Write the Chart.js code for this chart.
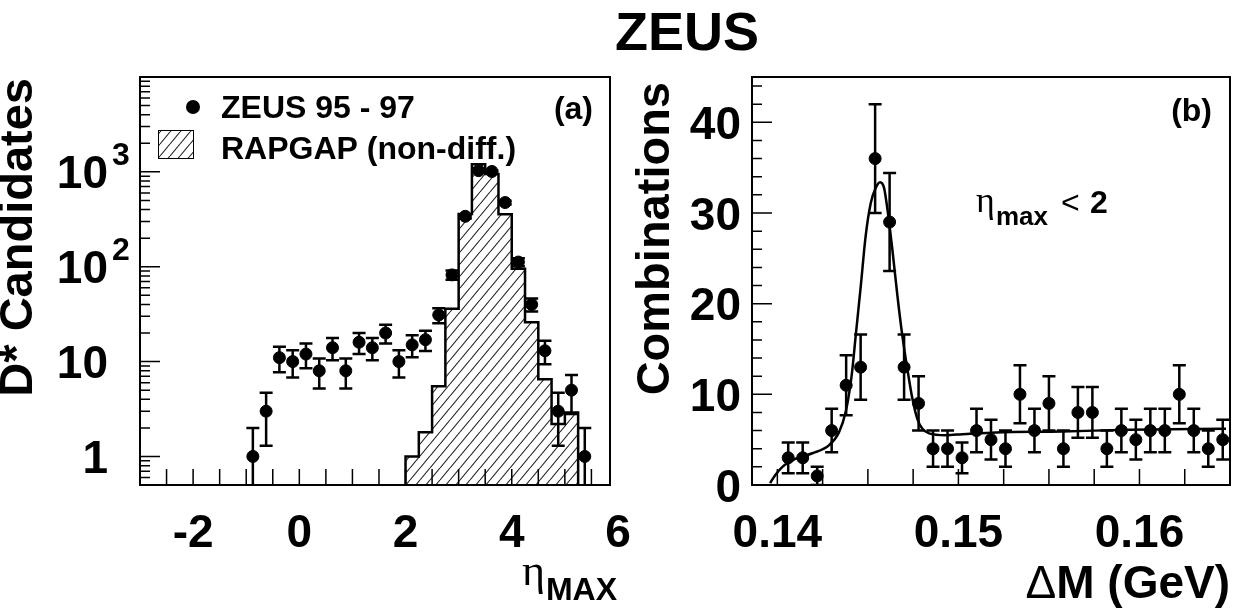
<!DOCTYPE html>
<html>
<head>
<meta charset="utf-8">
<title>ZEUS D* eta_max</title>
<script src="https://cdn.jsdelivr.net/npm/chart.js@4.4.1/dist/chart.umd.min.js"></script>
<style>
  body { margin: 0; background: #fff; width: 1244px; height: 609px; overflow: hidden; position: relative; }
  canvas { position: absolute; left: 0; top: 0; }
</style>
</head>
<body>
<canvas id="etaChart" width="1244" height="609"></canvas>
<canvas id="dmChart" width="1244" height="609"></canvas>
<script>
// (a) eta_max distribution of D* candidates
const etaBins = [-0.875, -0.625, -0.375, -0.125, 0.125, 0.375, 0.625, 0.875, 1.125, 1.375, 1.625, 1.875, 2.125,
                 2.375, 2.625, 2.875, 3.125, 3.375, 3.625, 3.875, 4.125, 4.375, 4.625, 4.875, 5.125, 5.375];
const zeusCounts = [1, 3, 11, 10, 12, 8, 14, 8, 16, 14, 20, 10, 15, 17, 31, 82, 340, 1030, 1010, 475, 112, 40, 13, 3, 5, 1];
const zeusErrors = [1, 1.7, 3.3, 3.2, 3.5, 2.8, 3.7, 2.8, 4, 3.7, 4.5, 3.2, 3.9, 4.1, 5.6, 9, 18, 32, 32, 22, 10.6, 6.3, 3.6, 1.7, 2.2, 1];
const rapgapEdges = [2.0, 2.25, 2.5, 2.75, 3.0, 3.25, 3.5, 3.75, 4.0, 4.25, 4.5, 4.75, 5.0, 5.25];
const rapgapCounts = [1.0, 1.8, 5.5, 36, 360, 1200, 950, 357, 95, 26, 6.5, 2.2, 2.9];
const etaTicks = [-2, 0, 2, 4, 6];
const logTicks = [1, 10, 100, 1000];
const logTickBase = ["1", "10", "10", "10"];
const logTickExp = ["", "", "2", "3"];

// (b) delta M for eta_max < 2
const dmBins = [0.1406, 0.1414, 0.1422, 0.1430, 0.1438, 0.1446, 0.1454, 0.1462, 0.1470, 0.1478, 0.1486, 0.1494,
                0.1502, 0.1510, 0.1518, 0.1526, 0.1534, 0.1542, 0.1550, 0.1558, 0.1566, 0.1574, 0.1582, 0.1590,
                0.1598, 0.1606, 0.1614, 0.1622, 0.1630, 0.1638, 0.1646];
const combCounts = [3, 3, 1, 6, 11, 13, 36, 29, 13, 9, 4, 4, 3, 6, 5, 4, 10, 6, 9, 4, 8, 8, 4, 6, 5, 6, 6, 10, 6, 4, 5];
const combErrors = [1.7, 1.7, 1, 2.4, 3.3, 3.6, 6, 5.4, 3.6, 3, 2, 2, 1.7, 2.4, 2.2, 2, 3.2, 2.4, 3, 2, 2.8, 2.8, 2,
                    2.4, 2.2, 2.4, 2.4, 3.2, 2.4, 2, 2.2];
const fitX = [0.13960, 0.13985, 0.14028, 0.14102, 0.14193, 0.14286, 0.14340, 0.14378, 0.14410, 0.14433, 0.14461,
              0.14488, 0.14516, 0.14544, 0.14567, 0.14589, 0.14608, 0.14635, 0.14663, 0.14690, 0.14718, 0.14746,
              0.14773, 0.14801, 0.14838, 0.14930, 0.15022, 0.15207, 0.15575, 0.15943, 0.16478];
const fitY = [0.2, 1.0, 2.0, 2.9, 3.5, 4.4, 5.8, 8.1, 12.0, 16.5, 22.0, 27.5, 31.1, 32.8, 33.4, 32.8, 30.4, 26.0,
              20.9, 16.5, 12.8, 9.5, 7.3, 6.2, 5.7, 5.5, 5.6, 5.8, 5.9, 6.1, 6.2];
const dmTicks = [0.14, 0.15, 0.16];
const combTicks = [0, 10, 20, 30, 40];

const SANS = '"Liberation Sans", Arial, sans-serif';
const SERIF = '"Liberation Serif", "Times New Roman", serif';

function txt(ctx, s, x, y, font, align) {
  ctx.font = font;
  ctx.textAlign = align || 'left';
  ctx.textBaseline = 'alphabetic';
  ctx.fillStyle = '#000';
  ctx.fillText(s, x, y);
}

function vtxt(ctx, s, x, y, font) {
  ctx.save();
  ctx.translate(x, y);
  ctx.rotate(-Math.PI / 2);
  txt(ctx, s, 0, 0, font, 'right');
  ctx.restore();
}

function makeHatch(ctx) {
  const tile = document.createElement('canvas');
  tile.width = 10; tile.height = 12;
  const g = tile.getContext('2d');
  g.strokeStyle = '#222';
  g.lineWidth = 1.1;
  g.beginPath();
  for (const dx of [-10, 0, 10]) { g.moveTo(dx, 12); g.lineTo(dx + 10, 0); }
  g.stroke();
  return ctx.createPattern(tile, 'repeat');
}

// frame plus inward ROOT-style ticks
const rootFrame = {
  id: 'rootFrame',
  afterDraw(chart, args, opts) {
    const { ctx, chartArea: a, scales: { x, y } } = chart;
    ctx.save();
    ctx.strokeStyle = '#000';
    ctx.lineWidth = 1.5;
    ctx.beginPath();
    opts.xMarks.forEach(([v, len]) => {
      const px = x.getPixelForValue(v);
      ctx.moveTo(px, a.bottom); ctx.lineTo(px, a.bottom - len);
    });
    opts.yMarks.forEach(([v, len]) => {
      const py = y.getPixelForValue(v);
      ctx.moveTo(a.left, py); ctx.lineTo(a.left + len, py);
    });
    ctx.stroke();
    ctx.lineWidth = 2;
    ctx.strokeRect(a.left, a.top, a.right - a.left, a.bottom - a.top);
    ctx.restore();
  }
};

const errorBars = {
  id: 'errorBars',
  afterDatasetsDraw(chart) {
    const { ctx, chartArea: a, scales: { y } } = chart;
    ctx.save();
    ctx.beginPath();
    ctx.rect(a.left, a.top, a.right - a.left, a.bottom - a.top);
    ctx.clip();
    ctx.strokeStyle = '#000';
    ctx.lineWidth = 2.5;
    chart.data.datasets.forEach((ds, i) => {
      if (!ds.errors) return;
      chart.getDatasetMeta(i).data.forEach((pt, j) => {
        const v = ds.data[j].y, e = ds.errors[j];
        const top = y.getPixelForValue(v + e);
        const low = (y.type === 'logarithmic' && v - e <= 0) ? a.bottom + 30 : y.getPixelForValue(v - e);
        ctx.beginPath();
        ctx.moveTo(pt.x, top); ctx.lineTo(pt.x, low);
        ctx.moveTo(pt.x - 6.5, top); ctx.lineTo(pt.x + 6.5, top);
        ctx.moveTo(pt.x - 6.5, low); ctx.lineTo(pt.x + 6.5, low);
        ctx.stroke();
      });
    });
    ctx.restore();
  }
};

// ---------- panel (a) ----------
const etaCtx = document.getElementById('etaChart').getContext('2d');
const hatch = makeHatch(etaCtx);

const rapgapPoints = [{ x: rapgapEdges[0], y: 0.5 }];
rapgapCounts.forEach((c, i) => rapgapPoints.push({ x: rapgapEdges[i], y: c }));
rapgapPoints.push({ x: rapgapEdges[rapgapEdges.length - 1], y: 0.5 });

const etaXMarks = [];
for (let v = -2.5; v < 5.8; v += 0.5) etaXMarks.push([v, 16]);
const etaYMarks = [];
for (let k = -1; k <= 3; k++) {
  for (let m = 1; m <= 9; m++) {
    const v = m * Math.pow(10, k);
    if (v > 0.5 && v < 10000) etaYMarks.push([v, m === 1 ? 20 : 10]);
  }
}

const labelsA = {
  id: 'labelsA',
  afterDraw(chart) {
    const { ctx, scales: { x, y } } = chart;
    txt(ctx, 'ZEUS', 687, 50, 'bold 54px ' + SANS, 'center');
    etaTicks.forEach(v => txt(ctx, String(v), x.getPixelForValue(v), 547, 'bold 46px ' + SANS, 'center'));
    logTicks.forEach((v, i) => {
      const py = y.getPixelForValue(v);
      txt(ctx, logTickBase[i], 108, py + 16.5, 'bold 46px ' + SANS, 'right');
      if (logTickExp[i]) txt(ctx, logTickExp[i], 112, py - 7, 'bold 32px ' + SANS, 'left');
    });
    vtxt(ctx, 'D* Candidates', 32, 78, 'bold 47px ' + SANS);
    // x title: eta_MAX
    ctx.font = 'bold 32px ' + SANS;
    const wSub = ctx.measureText('MAX').width;
    txt(ctx, 'MAX', 617, 600, 'bold 32px ' + SANS, 'right');
    txt(ctx, 'η', 617 - wSub - 1, 585, '44px ' + SERIF, 'right');
    // legend
    ctx.save();
    ctx.fillStyle = '#000';
    ctx.beginPath(); ctx.arc(193, 107, 7, 0, Math.PI * 2); ctx.fill();
    ctx.fillStyle = hatch;
    ctx.fillRect(158, 130, 35, 28);
    ctx.strokeStyle = '#000'; ctx.lineWidth = 1;
    ctx.strokeRect(158.5, 130.5, 35, 28);
    ctx.restore();
    txt(ctx, 'ZEUS 95 - 97', 221, 118, 'bold 32px ' + SANS);
    txt(ctx, 'RAPGAP (non-diff.)', 221, 159, 'bold 32px ' + SANS);
    txt(ctx, '(a)', 593, 119, 'bold 32px ' + SANS, 'right');
  }
};

new Chart(etaCtx, {
  type: 'scatter',
  data: {
    datasets: [
      {
        label: 'ZEUS 95 - 97',
        data: etaBins.map((x, i) => ({ x, y: zeusCounts[i] })),
        errors: zeusErrors,
        pointRadius: 6,
        pointBackgroundColor: '#000',
        pointBorderColor: '#000',
        pointBorderWidth: 1,
        order: 0
      },
      {
        type: 'line',
        label: 'RAPGAP (non-diff.)',
        data: rapgapPoints,
        stepped: 'before',
        fill: 'start',
        backgroundColor: hatch,
        borderColor: '#000',
        borderWidth: 2.5,
        pointRadius: 0,
        order: 1
      }
    ]
  },
  options: {
    responsive: false,
    animation: false,
    devicePixelRatio: 1,
    layout: { padding: { left: 140, top: 77, right: 634, bottom: 124 } },
    scales: {
      x: { type: 'linear', min: -3, max: 5.85, display: false },
      y: { type: 'logarithmic', min: 0.5, max: 10000, display: false }
    },
    plugins: {
      legend: { display: false },
      tooltip: { enabled: false },
      rootFrame: { xMarks: etaXMarks, yMarks: etaYMarks }
    }
  },
  plugins: [rootFrame, errorBars, labelsA]
});

// ---------- panel (b) ----------
const dmXMarks = [];
for (let k = 0; k <= 9; k++) dmXMarks.push([0.14 + k * 0.0025, 16]);
const dmYMarks = [];
for (let v = 2; v < 45; v += 2) dmYMarks.push([v, v % 10 === 0 ? 20 : 10]);

const labelsB = {
  id: 'labelsB',
  afterDraw(chart) {
    const { ctx, scales: { x, y } } = chart;
    dmTicks.forEach(v => txt(ctx, v.toFixed(2), x.getPixelForValue(v), 547, 'bold 46px ' + SANS, 'center'));
    combTicks.forEach(v => txt(ctx, String(v), 741, y.getPixelForValue(v) + 16.5, 'bold 46px ' + SANS, 'right'));
    vtxt(ctx, 'Combinations', 669, 82, 'bold 47px ' + SANS);
    txt(ctx, '(b)', 1212, 121, 'bold 32px ' + SANS, 'right');
    // eta_max < 2
    txt(ctx, 'η', 976, 212, '36px ' + SERIF);
    txt(ctx, 'max', 996, 225, 'bold 26px ' + SANS);
    txt(ctx, '<', 1061, 213, '32px ' + SANS);
    txt(ctx, '2', 1090, 213, 'bold 32px ' + SANS);
    // x title
    ctx.font = 'bold 46px ' + SANS;
    const w = ctx.measureText('M (GeV)').width;
    txt(ctx, 'M (GeV)', 1230, 598, 'bold 46px ' + SANS, 'right');
    txt(ctx, 'Δ', 1230 - w, 598, '46px ' + SANS, 'right');
  }
};

new Chart(document.getElementById('dmChart'), {
  type: 'scatter',
  data: {
    datasets: [
      {
        label: 'ZEUS',
        data: dmBins.map((x, i) => ({ x, y: combCounts[i] })),
        errors: combErrors,
        pointRadius: 6,
        pointBackgroundColor: '#000',
        pointBorderColor: '#000',
        pointBorderWidth: 1,
        order: 0
      },
      {
        type: 'line',
        label: 'fit',
        data: fitX.map((x, i) => ({ x, y: fitY[i] })),
        cubicInterpolationMode: 'monotone',
        borderColor: '#000',
        borderWidth: 2.5,
        pointRadius: 0,
        fill: false,
        order: 1
      }
    ]
  },
  options: {
    responsive: false,
    animation: false,
    devicePixelRatio: 1,
    layout: { padding: { left: 752, top: 77, right: 14, bottom: 124 } },
    scales: {
      x: { type: 'linear', min: 0.1386, max: 0.165, display: false },
      y: { type: 'linear', min: 0, max: 45, display: false }
    },
    plugins: {
      legend: { display: false },
      tooltip: { enabled: false },
      rootFrame: { xMarks: dmXMarks, yMarks: dmYMarks }
    }
  },
  plugins: [rootFrame, errorBars, labelsB]
});
</script>
</body>
</html>
